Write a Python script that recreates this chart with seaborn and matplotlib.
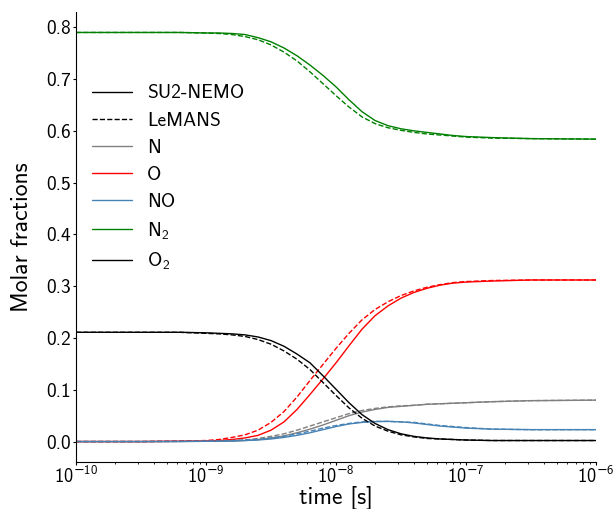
import numpy as np
import pandas as pd
import matplotlib
matplotlib.use("Agg")
import matplotlib.pyplot as plt
import seaborn as sns
from matplotlib.lines import Line2D
from matplotlib.ticker import FuncFormatter

# time exponents (log10 of time in seconds)
t_exp = [-10.0, -9.5, -9.2, -9.0, -8.9, -8.8, -8.7, -8.6, -8.5, -8.4, -8.3, -8.2, -8.1,
         -8.0, -7.9, -7.8, -7.7, -7.6, -7.5, -7.4, -7.3, -7.2, -7.1, -7.0, -6.8, -6.5, -6.0]

# SU2-NEMO (solid)
N_su2  = [0, 0, .0002, .0005, .001, .001, .002, .004, .007, .011, .017, .024, .032, .041,
          .050, .057, .062, .066, .068, .070, .072, .073, .074, .075, .077, .079, .080]
O_su2  = [0, 0, .0005, .001, .002, .004, .007, .012, .022, .038, .062, .091, .121, .152,
          .185, .217, .243, .262, .277, .288, .296, .302, .306, .308, .310, .312, .312]
NO_su2 = [0, 0, .0002, .0005, .001, .001, .002, .003, .005, .008, .012, .017, .023, .029,
          .034, .037, .0385, .039, .038, .036, .033, .030, .028, .026, .024, .023, .023]
N2_su2 = [.790, .790, .790, .789, .789, .788, .786, .780, .772, .760, .745, .727, .707, .685,
          .660, .637, .620, .610, .604, .600, .597, .594, .591, .589, .587, .585, .584]
O2_su2 = [.211, .211, .211, .210, .209, .208, .206, .202, .195, .184, .169, .152, .127, .101,
          .075, .052, .035, .023, .015, .010, .007, .005, .004, .003, .002, .002, .002]

# LeMANS (dashed)
N_lem  = [0, 0, .0003, .001, .001, .002, .003, .006, .010, .015, .022, .030, .038, .046,
          .054, .060, .064, .067, .069, .070, .072, .073, .074, .075, .077, .079, .080]
O_lem  = [0, 0, .001, .002, .004, .008, .013, .022, .037, .058, .086, .118, .149, .180,
          .209, .235, .255, .270, .282, .291, .298, .303, .307, .309, .311, .312, .312]
NO_lem = [0, 0, .0003, .001, .001, .002, .003, .004, .007, .010, .015, .020, .026, .031,
          .035, .038, .039, .039, .038, .037, .034, .031, .029, .027, .024, .023, .023]
N2_lem = [.790, .790, .790, .789, .788, .786, .782, .776, .766, .752, .735, .714, .691, .668,
          .646, .627, .614, .606, .601, .597, .594, .592, .590, .588, .586, .585, .584]
O2_lem = [.211, .211, .211, .209, .208, .206, .203, .197, .188, .175, .159, .139, .114, .089,
          .065, .045, .030, .020, .013, .009, .006, .005, .004, .003, .002, .002, .002]

species = ["N", "O", "NO", "N$_2$", "O$_2$"]
colors = ["grey", "red", "steelblue", "green", "black"]

sns.set_style("ticks")
plt.rcParams["font.family"] = ["cmss10", "DejaVu Sans"]
plt.rcParams["mathtext.fontset"] = "custom"
plt.rcParams["mathtext.rm"] = "cmss10"
plt.rcParams["mathtext.it"] = "cmss10"
plt.rcParams["mathtext.bf"] = "cmss10"
plt.rcParams["mathtext.sf"] = "DejaVu Sans"
plt.rcParams["axes.unicode_minus"] = False
plt.rcParams["text.color"] = "black"
plt.rcParams["axes.labelcolor"] = "black"
plt.rcParams["xtick.color"] = "black"
plt.rcParams["ytick.color"] = "black"
plt.rcParams["axes.edgecolor"] = "black"
plt.rcParams["axes.linewidth"] = 0.8

fig = plt.figure(figsize=(6.14, 5.09), dpi=100)
ax = fig.add_axes([0.1238, 0.0923, 0.8469, 0.8841])

t = 10.0 ** np.array(t_exp)
su2 = [N_su2, O_su2, NO_su2, N2_su2, O2_su2]
lem = [N_lem, O_lem, NO_lem, N2_lem, O2_lem]
for name, c, ys, yl in zip(species, colors, su2, lem):
    sns.lineplot(x=t, y=ys, ax=ax, color=c, lw=1.0, linestyle="-", estimator=None)
    sns.lineplot(x=t, y=yl, ax=ax, color=c, lw=1.0, linestyle="--", estimator=None)

ax.set_xscale("log")
ax.set_xlim(1e-10, 1e-6)
ax.set_xticks([1e-10, 1e-9, 1e-8, 1e-7, 1e-6])


def fmt(v, pos):
    e = int(round(np.log10(v)))
    if e < 0:
        return r"$10^{\mathsf{-}%d}$" % (-e)
    return r"$10^{%d}$" % e


ax.xaxis.set_major_formatter(FuncFormatter(fmt))
ax.set_yticks(np.arange(0, 0.81, 0.1))
ax.set_yticklabels(["%.1f" % v for v in np.arange(0, 0.81, 0.1)])
ax.set_xlabel("time [s]", fontsize=17, labelpad=-1.0)
ax.set_ylabel("Molar fractions", fontsize=17, labelpad=10)
ax.tick_params(axis="both", which="major", labelsize=14, direction="out",
               length=2.2, width=0.8, pad=1.2)
ax.tick_params(axis="x", which="major", labelsize=13.2, pad=0.8)
ax.tick_params(axis="both", which="minor", direction="out", length=1.3, width=0.6)
sns.despine(ax=ax)

handles = [Line2D([], [], color="black", lw=1.0, ls="-"),
           Line2D([], [], color="black", lw=1.0, ls="--")]
labels = ["SU2-NEMO", "LeMANS"]
for name, c in zip(species, colors):
    handles.append(Line2D([], [], color=c, lw=1.0))
    labels.append(name)
ax.legend(handles, labels, loc="upper left", bbox_to_anchor=(-0.002, 0.878),
          frameon=False, fontsize=14, handlelength=2.03, handletextpad=0.77,
          labelspacing=0.47)

fig.savefig("out.png", dpi=100)
